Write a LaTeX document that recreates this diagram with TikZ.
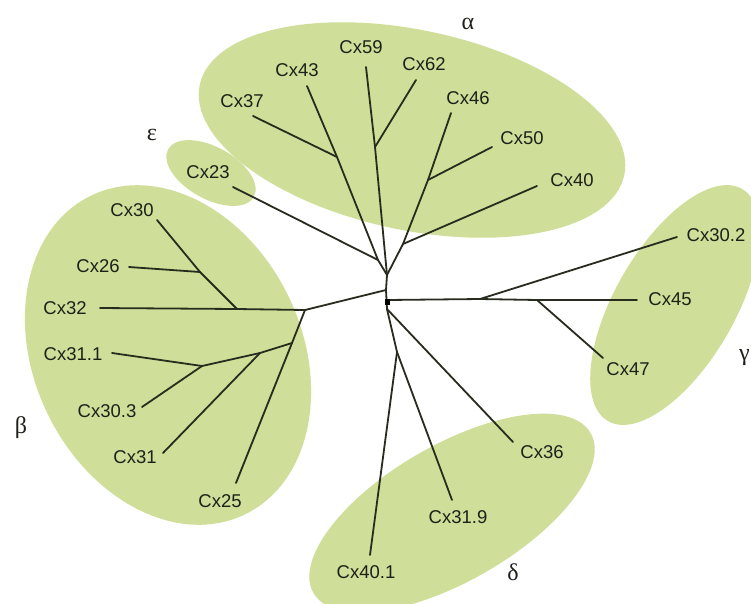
\documentclass[tikz,border=0pt]{standalone}
\usepackage{fontspec}
\setmainfont{Liberation Sans}
\newfontfamily\grk{Liberation Serif}
\usetikzlibrary{shapes.geometric,calc}
\definecolor{grn}{RGB}{207,222,152}
\definecolor{ln}{RGB}{40,44,30}
\definecolor{txt}{RGB}{30,33,25}
\begin{document}
\begin{tikzpicture}[x=1pt,y=-1pt,
  lbl/.style={inner sep=0pt, font=\fontsize{18.5}{20}\selectfont, text=txt},
  grklbl/.style={inner sep=0pt, font=\grk\fontsize{24}{26}\selectfont, text=txt},
  br/.style={draw=ln, line width=1.8pt, line cap=round, line join=round},
  blob/.style={fill=grn}]
\useasboundingbox (0,0) rectangle (751,603);
\fill[white] (0,0) rectangle (751,603);

% clade ellipses
\fill[blob, rotate around={-12:(412,130)}] (412,130) ellipse [x radius=217pt, y radius=100pt];
\fill[blob, rotate around={-29:(211,173)}] (211,173) ellipse [x radius=49pt, y radius=26pt];
\fill[blob, rotate around={25.7:(168,355)}] (168,355) ellipse [x radius=134pt, y radius=177pt];
\fill[blob, rotate around={60:(675,305)}] (675,305) ellipse [x radius=134pt, y radius=60pt];
\fill[blob, rotate around={30:(452,513)}] (452,513) ellipse [x radius=160pt, y radius=68pt];

% internal points
\coordinate (H) at (387,275);
\coordinate (T1) at (386,290);
\coordinate (D) at (387,302);
\coordinate (D2) at (387,309);
\coordinate (J23) at (378,260);
\coordinate (J37) at (337,157);
\coordinate (J62) at (375,147);
\coordinate (J4046) at (403,244);
\coordinate (J50) at (428,180);
\coordinate (B1) at (305,310);
\coordinate (J30) at (237,309);
\coordinate (J26) at (200,272);
\coordinate (B2) at (292,343);
\coordinate (B3) at (260,353);
\coordinate (B4) at (202,366);
\coordinate (G0) at (387,300);
\coordinate (G1) at (480,299);
\coordinate (G2) at (537,300);
\coordinate (DL) at (397,352);

% leaf ends
\coordinate (E23) at (233,187);
\coordinate (E37) at (253,116);
\coordinate (E43) at (307,86);
\coordinate (E59) at (366,67);
\coordinate (E62) at (416,80);
\coordinate (E46) at (451,113);
\coordinate (E50) at (492,147);
\coordinate (E40) at (537,186);
\coordinate (E302) at (677,237);
\coordinate (E45) at (637,300);
\coordinate (E47) at (603,358);
\coordinate (E36) at (513,442);
\coordinate (E319) at (452,500);
\coordinate (E401) at (370,555);
\coordinate (E32) at (100,308);
\coordinate (E30) at (157,220);
\coordinate (E26) at (129,267);
\coordinate (E311) at (112,353);
\coordinate (E303) at (142,407);
\coordinate (E31) at (163,453);
\coordinate (E25) at (236,483);

% branches
\draw[br] (E43) -- (J37) -- (J23) -- (H);
\draw[br] (E37) -- (J37);
\draw[br] (E23) -- (J23);
\draw[br] (E59) -- (J62) -- (H);
\draw[br] (E62) -- (J62);
\draw[br] (E46) -- (J50) -- (J4046) -- (H);
\draw[br] (E50) -- (J50);
\draw[br] (E40) -- (J4046);
\draw[br] (H) -- (T1) -- (D2);
\draw[br] (T1) -- (B1);
\draw[br] (B1) -- (J30) -- (E32);
\draw[br] (J30) -- (J26) -- (E30);
\draw[br] (J26) -- (E26);
\draw[br] (B1) -- (B2) -- (E25);
\draw[br] (B2) -- (B3) -- (E31);
\draw[br] (B3) -- (B4) -- (E311);
\draw[br] (B4) -- (E303);
\draw[br] (G0) -- (G1) -- (G2) -- (E45);
\draw[br] (G1) -- (E302);
\draw[br] (G2) -- (E47);
\draw[br] (D2) -- (DL) -- (E401);
\draw[br] (DL) -- (E319);
\draw[br] (D2) -- (E36);
\fill[black] ($(D)+(-2.5,-3)$) rectangle ($(D)+(2.5,3)$);

% labels
\node[lbl] (l59) at (361,47) {Cx59};
\node[lbl] (l43) at (297,70) {Cx43};
\node[lbl] (l37) at (242,101) {Cx37};
\node[lbl] (l62) at (424,64) {Cx62};
\node[lbl] (l46) at (468,98) {Cx46};
\node[lbl] (l50) at (522,138) {Cx50};
\node[lbl] (l40) at (572,180) {Cx40};
\node[lbl] (l23) at (208,172) {Cx23};
\node[lbl] (l302) at (716,235) {Cx30.2};
\node[lbl] (l45) at (670,299) {Cx45};
\node[lbl] (l47) at (628,369) {Cx47};
\node[lbl] (l36) at (542,452) {Cx36};
\node[lbl] (l319) at (458,517) {Cx31.9};
\node[lbl] (l401) at (366,572) {Cx40.1};
\node[lbl] (l30) at (132,210) {Cx30};
\node[lbl] (l26) at (98,266) {Cx26};
\node[lbl] (l32) at (65,308) {Cx32};
\node[lbl] (l311) at (73,354) {Cx31.1};
\node[lbl] (l303) at (107,411) {Cx30.3};
\node[lbl] (l31) at (135,457) {Cx31};
\node[lbl] (l25) at (220,501) {Cx25};

\node[grklbl] (ga) at (468,24) {α};
\node[grklbl] (ge) at (152,135) {ε};
\node[grklbl] (gb) at (21,428) {β};
\node[grklbl, anchor=east] (gg) at (750,358) {γ};
\node[grklbl] (gd) at (513,572) {δ};
\end{tikzpicture}
\end{document}
